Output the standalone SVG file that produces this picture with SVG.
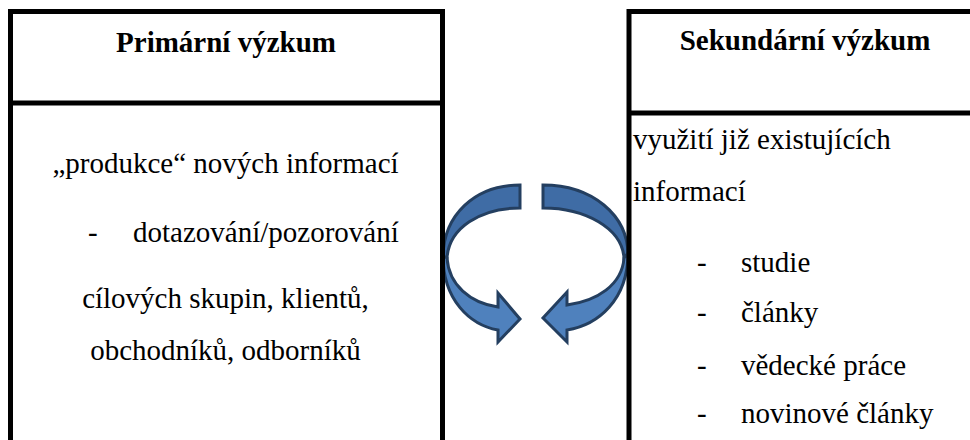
<svg xmlns="http://www.w3.org/2000/svg" width="970" height="440" viewBox="0 0 970 440">
  <rect x="0" y="0" width="970" height="440" fill="#fff"/>

  <!-- circular exchange arrows between the two boxes -->
  <g id="connectors" stroke="#243f60" stroke-width="3">
    <g id="arrow-left">
      <path fill="#3f6ca5" d="M520,185 C475,185 443,215 443,258 L447,258 C449,228 480,208 520,208 Z"/>
      <path fill="#4f81bd" d="M443,256 C443,300 470,325 498,330 L498,342 L520,319 L498,293 L498,307 C470,303 449,285 447,258 Z"/>
    </g>
    <g id="arrow-right">
      <path fill="#3f6ca5" d="M543,185 C592,185 628,215 628,255 L624,258 C622,228 585,208 543,208 Z"/>
      <path fill="#4f81bd" d="M628,253 C628,300 598,325 567,330 L567,342 L543,318 L567,292 L567,305 C597,301 622,285 624,258 Z"/>
    </g>
  </g>

  <!-- primary research box -->
  <g id="primary" font-family="'Times New Roman', 'Liberation Serif', serif" font-size="29" fill="#000">
    <path fill="none" stroke="#000" stroke-width="5" d="M10.5,445 V11.5 H442.5 V445 M10.5,103 H442.5"/>
    <text x="226" y="52" text-anchor="middle" font-weight="bold">Primární výzkum</text>
    <text x="225.5" y="173" text-anchor="middle">„produkce“ nových informací</text>
    <text x="88" y="242">-</text>
    <text x="133" y="242">dotazování/pozorování</text>
    <text x="225.5" y="308" text-anchor="middle">cílových skupin, klientů,</text>
    <text x="225.5" y="360" text-anchor="middle">obchodníků, odborníků</text>
  </g>

  <!-- secondary research box -->
  <g id="secondary" font-family="serif" font-size="29" fill="#000">
    <path fill="none" stroke="#000" stroke-width="5" d="M629,445 V11.5 H975 M629,113 H975"/>
    <text x="805" y="50" text-anchor="middle" font-weight="bold">Sekundární výzkum</text>
    <text x="633" y="149">využití již existujících</text>
    <text x="633" y="201">informací</text>
    <text x="697" y="272">-</text>
    <text x="741" y="272">studie</text>
    <text x="697" y="322">-</text>
    <text x="741" y="322">články</text>
    <text x="697" y="375">-</text>
    <text x="741" y="375">vědecké práce</text>
    <text x="697" y="423">-</text>
    <text x="741" y="423">novinové články</text>
  </g>
</svg>
